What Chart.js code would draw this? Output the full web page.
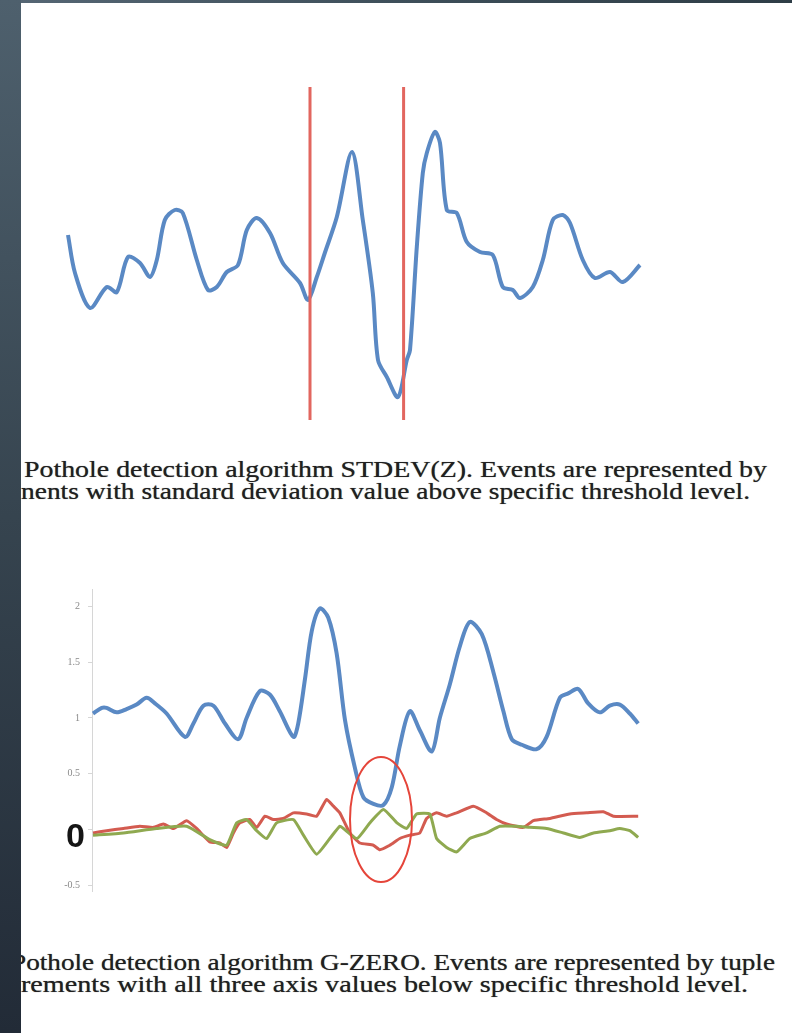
<!DOCTYPE html>
<html>
<head>
<meta charset="utf-8">
<script src="https://cdn.jsdelivr.net/npm/chart.js@4.4.1/dist/chart.umd.min.js"></script>
<style>
  html, body { margin: 0; padding: 0; background: #fff; }
  body { width: 792px; height: 1033px; position: relative; overflow: hidden; }
  .strip-left { position: absolute; left: 0; top: 0; width: 21px; height: 1033px; z-index: 5;
    background: linear-gradient(to bottom, #4e606d, #36444f 50%, #222b37); }
  .strip-top { position: absolute; left: 0; top: 0; width: 792px; height: 3px; z-index: 5;
    background: linear-gradient(to right, #566775, #3e4f5a 50%, #2e3d46); }
  canvas { position: absolute; }
  #top-chart { left: 48px; top: 80px; }
  #bottom-chart { left: 40px; top: 575px; }
  .cap { position: absolute; white-space: nowrap; font-family: "Liberation Serif", "Times New Roman", serif;
    font-size: 24px; line-height: 22px; color: #1f1f1f; transform-origin: 0 0;
    text-shadow: 0 0 0.7px #555; }
  .zero { position: absolute; left: 66px; top: 818px; font-family: "Liberation Sans", Arial, sans-serif;
    font-weight: bold; font-size: 34px; line-height: 34px; color: #151515; }
</style>
</head>
<body>
<div class="strip-top"></div>
<div class="strip-left"></div>

<canvas id="top-chart" width="612" height="350"></canvas>
<div class="cap" data-w="743" style="left:24px; top:458px;">Pothole detection algorithm STDEV(Z). Events are represented by</div>
<div class="cap" data-w="729" style="left:21px; top:480px;">nents with standard deviation value above specific threshold level.</div>

<canvas id="bottom-chart" width="620" height="330"></canvas>
<div class="zero">0</div>
<div class="cap" data-w="764" style="left:11px; top:951px;">Pothole detection algorithm G-ZERO. Events are represented by tuple</div>
<div class="cap" data-w="727" style="left:21px; top:973px;">rements with all three axis values below specific threshold level.</div>

<script>
// top chart: Z acceleration with the two event cut lines
const topT = [0, 1.75, 5.5, 9.7, 12.2, 15, 18, 20.5, 22.2, 24.2, 26.7, 28.7, 32.2, 35, 37.2, 39.7, 42.5, 44.7, 47.2, 50.5,
  53.7, 58, 60, 62.2, 64.2, 67.2, 71, 73.7, 76.2, 77.5, 79.7, 82.5, 84.7, 85.5, 87.2, 88.7, 89.7, 91.7, 93, 94.7,
  97.2, 99.7, 103, 106.2, 108.7, 111.2, 113, 116.2, 118.7, 121.2, 123.7, 125.5, 128.7, 131.7, 135.5, 138.7, 143];
const topZ = [0.20, -0.18, -0.53, -0.32, -0.37, -0.02, -0.08, -0.22, -0.05, 0.35, 0.45, 0.42, -0.05, -0.35, -0.32, -0.17, -0.10, 0.25, 0.37, 0.22,
  -0.08, -0.28, -0.45, -0.22, 0.02, 0.38, 1.03, 0.35, -0.38, -1.05, -1.22, -1.42, -1.05, -0.95, 0.08, 0.82, 1.02, 1.23, 1.12, 0.45,
  0.42, 0.13, 0.03, 0.00, -0.32, -0.35, -0.43, -0.32, -0.05, 0.35, 0.40, 0.32, -0.05, -0.23, -0.17, -0.27, -0.10];
const cutT = [60.5, 83.9];
const cutZ = [1.68, -1.65];

// bottom chart: three axes, G-ZERO event
const blueT = [0, 2.2, 3.4, 5.9, 8.4, 10.9, 13.4, 15.5, 18.4, 23, 25.1, 27.6, 30.1, 33, 36.3, 38.4, 41.7, 44.2, 46.7, 50.1,
  51.3, 53, 54.7, 56.7, 58.8, 60.9, 63, 65.5, 67.6, 70.1, 72.6, 74.7, 76.7, 79.2, 81.7, 84.7, 86.7, 89.2, 91.7, 94.2,
  97.2, 100.1, 102.6, 104.7, 107.2, 110.9, 113.4, 116.7, 118.8, 121.3, 123.8, 126.7, 129.2, 131.7, 134.2, 136.3];
const blueV = [1.04, 1.09, 1.09, 1.05, 1.08, 1.12, 1.18, 1.13, 1.04, 0.83, 0.95, 1.11, 1.11, 0.95, 0.81, 1.00, 1.24, 1.21, 1.06, 0.83,
  0.95, 1.35, 1.78, 1.98, 1.90, 1.58, 0.98, 0.55, 0.29, 0.23, 0.22, 0.38, 0.75, 1.06, 0.89, 0.70, 1.00, 1.30, 1.64, 1.86,
  1.75, 1.41, 1.06, 0.81, 0.76, 0.72, 0.83, 1.18, 1.22, 1.26, 1.13, 1.05, 1.11, 1.12, 1.04, 0.95];
const redT = [0, 3.4, 7.6, 11.7, 15.1, 17.6, 20.1, 23.4, 25.9, 29.2, 31.7, 33.4, 35.1, 36.7, 39.2, 40.9, 43, 45.1, 47.6, 50.1,
  53.4, 55.9, 58.4, 60.1, 61.7, 64.2, 66.7, 70.1, 71.7, 74.2, 76.7, 79.2, 81.7, 83.4, 85.9, 88.4, 90.9, 95.1, 98.4, 100.9,
  103.4, 107.6, 110.1, 114.2, 119.2, 123.4, 127.6, 130.1, 136.3];
const redV = [-0.03, -0.01, 0.01, 0.03, 0.02, 0.05, 0.01, 0.08, 0.01, -0.11, -0.12, -0.16, -0.03, 0.06, 0.09, 0.02, 0.12, 0.09, 0.10, 0.15,
  0.14, 0.12, 0.27, 0.21, 0.15, -0.03, -0.12, -0.14, -0.18, -0.14, -0.08, -0.05, -0.03, 0.10, 0.15, 0.12, 0.15, 0.21, 0.15, 0.09,
  0.05, 0.02, 0.08, 0.10, 0.14, 0.15, 0.16, 0.12, 0.12];
const greenT = [0, 7.6, 15.9, 23.4, 29.2, 33.4, 35.9, 38.4, 40.9, 43.4, 45.9, 50.1, 52.6, 55.9, 59.2, 61.7, 62.6, 66, 69.2, 72.6,
  76, 78.4, 80.9, 84.2, 85.9, 88.4, 90.9, 94.2, 98.4, 101.7, 105.9, 109.2, 113.4, 117.6, 121.7, 125.1, 129.2, 131.7, 134.2, 136.3];
const greenV = [-0.05, -0.03, 0.01, 0.03, -0.09, -0.14, 0.06, 0.09, -0.01, -0.08, 0.06, 0.09, -0.05, -0.22, -0.08, 0.03, 0.01, -0.08, 0.06, 0.18,
  0.06, 0.01, 0.14, 0.14, -0.08, -0.16, -0.20, -0.08, -0.03, 0.03, 0.03, 0.02, 0.01, -0.03, -0.07, -0.03, -0.01, 0.01, -0.01, -0.07];
const yTicks = [-0.5, 0, 0.5, 1, 1.5, 2];
const eventMark = { x: 72, y: 0.09, rx: 7.75, ry: 0.56 };

const pts = (xs, ys) => xs.map((x, i) => ({ x: x, y: ys[i] }));

new Chart(document.getElementById('top-chart'), {
  type: 'line',
  data: {
    datasets: [
      { data: pts(topT, topZ), borderColor: '#5a89c4', borderWidth: 4, tension: 0.3, pointRadius: 0, order: 2 },
      { data: pts([cutT[0], cutT[0]], cutZ), borderColor: '#e2665f', borderWidth: 3, pointRadius: 0, order: 1 },
      { data: pts([cutT[1], cutT[1]], cutZ), borderColor: '#e2665f', borderWidth: 3, pointRadius: 0, order: 1 }
    ]
  },
  options: {
    responsive: false,
    animation: false,
    devicePixelRatio: 1,
    layout: { padding: 0 },
    plugins: { legend: { display: false }, tooltip: { enabled: false } },
    scales: {
      x: { type: 'linear', min: -5, max: 148, display: false },
      y: { min: -1.75, max: 1.75, display: false }
    }
  }
});

const ellipsePlugin = {
  id: 'eventEllipse',
  afterDatasetsDraw(chart) {
    const { ctx, scales } = chart;
    const cx = scales.x.getPixelForValue(eventMark.x);
    const cy = scales.y.getPixelForValue(eventMark.y);
    const rx = Math.abs(scales.x.getPixelForValue(eventMark.x + eventMark.rx) - cx);
    const ry = Math.abs(scales.y.getPixelForValue(eventMark.y + eventMark.ry) - cy);
    ctx.save();
    ctx.beginPath();
    ctx.ellipse(cx, cy, rx, ry, 0, 0, Math.PI * 2);
    ctx.strokeStyle = '#e5453a';
    ctx.lineWidth = 2;
    ctx.stroke();
    ctx.restore();
  }
};

new Chart(document.getElementById('bottom-chart'), {
  type: 'line',
  data: {
    datasets: [
      { data: pts(greenT, greenV), borderColor: '#8fa950', borderWidth: 3, tension: 0.15, pointRadius: 0 },
      { data: pts(redT, redV), borderColor: '#d35b50', borderWidth: 3, tension: 0.15, pointRadius: 0 },
      { data: pts(blueT, blueV), borderColor: '#5a89c4', borderWidth: 4, tension: 0.3, pointRadius: 0 }
    ]
  },
  options: {
    responsive: false,
    animation: false,
    devicePixelRatio: 1,
    layout: { padding: { top: 8, bottom: 7, left: 0, right: 0 } },
    plugins: { legend: { display: false }, tooltip: { enabled: false } },
    scales: {
      x: { type: 'linear', min: -0.25, max: 141.75, display: false },
      y: {
        min: -0.55, max: 2.155,
        afterFit: (s) => { s.width = 52; },
        afterBuildTicks: (s) => { s.ticks = yTicks.map(v => ({ value: v })); },
        border: { display: true, color: '#d6d6d6', width: 1 },
        grid: { display: true, drawOnChartArea: false, drawTicks: true, tickLength: 4, color: '#d6d6d6' },
        ticks: {
          padding: 8,
          color: '#8a8a8a',
          font: { family: 'Liberation Serif', size: 10 },
          callback: (v) => v === 0 ? '' : String(v)
        }
      }
    }
  },
  plugins: [ellipsePlugin]
});

// stretch each caption line to the width it takes in the picture
document.querySelectorAll('.cap').forEach(el => {
  const w = el.getBoundingClientRect().width;
  el.style.transform = 'scaleX(' + (parseFloat(el.dataset.w) / w) + ')';
});
</script>
</body>
</html>
